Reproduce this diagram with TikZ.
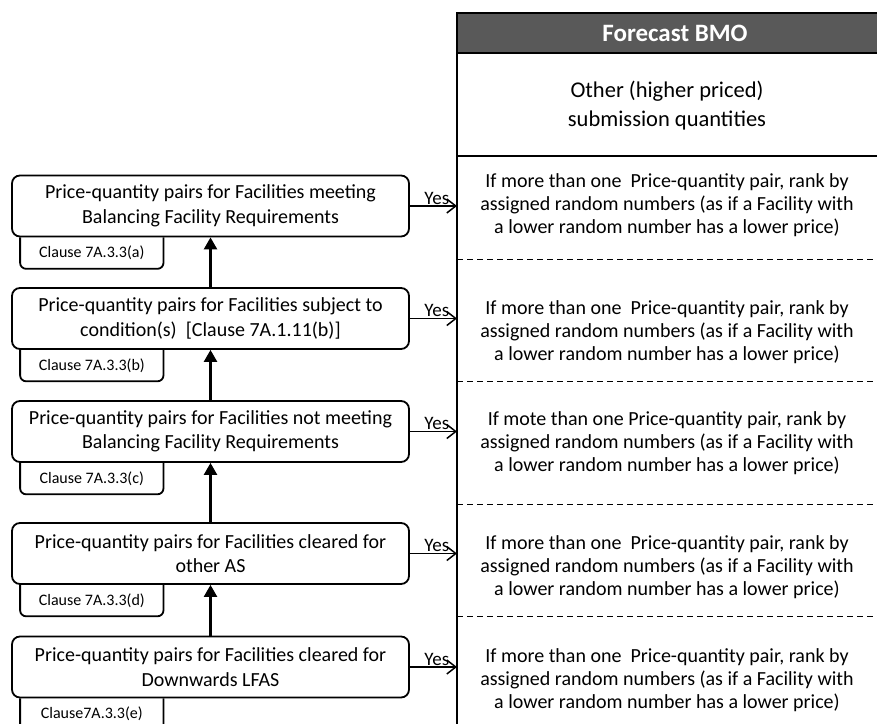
\documentclass[tikz,border=0pt]{standalone}
\usepackage{fontspec}
\setmainfont{Carlito}
\usetikzlibrary{arrows.meta,positioning}
\definecolor{hdrgray}{RGB}{89,89,89}
\tikzset{
  every picture/.style={font=\fontsize{20}{24.5}\selectfont},
  pqbox/.style={draw,line width=1.8pt,rounded corners=8pt,fill=white,
    minimum width=397pt,minimum height=61pt,align=center,inner sep=2pt},
  clausetab/.style={minimum width=143pt,minimum height=31pt,inner sep=0pt,
    font=\fontsize{16}{19}\selectfont},
  tabline/.style={line width=1.8pt,rounded corners=6pt},
  rowtext/.style={align=center,font=\fontsize{20}{23.3}\selectfont},
  frame/.style={line width=2.4pt},
  rowsep/.style={line width=1pt,dash pattern=on 6pt off 4pt},
  upflow/.style={line width=2.4pt,-{Triangle[length=12pt,width=13pt]}},
  yesflow/.style={line width=1.5pt,-{Straight Barb[length=9pt,width=14pt,line width=1.5pt]}},
  yeslbl/.style={font=\fontsize{19}{22}\selectfont,inner sep=0pt,anchor=base east,
    xshift=-7pt,yshift=2pt},
}
\begin{document}
\begin{tikzpicture}[x=1pt,y=-1pt]
  \useasboundingbox (0,0) rectangle (877,723);
  \clip (0,0) rectangle (877,723);
  \fill[hdrgray] (457,13) rectangle (900,53);
  \coordinate (tbl) at (457,13);
  \node[white,font=\bfseries\fontsize{25}{30}\selectfont] (hdr) at (675,33) {Forecast BMO};
  \draw[frame] (900,13) -- (tbl) -- (457,730);
  \draw[frame] (457,53) -- (900,53) (457,156) -- (900,156);
  \foreach \y in {259,381,504,616}{
    \draw[rowsep] (457,\y) -- (900,\y);
  }
  \node[rowtext,font=\fontsize{22.5}{29}\selectfont] (other) at (667,106) {Other (higher priced)\\submission quantities};
  \node[rowtext] (r1) at (667,205) {If more than one \ Price-quantity pair, rank by\\assigned random numbers (as if a Facility with\\a lower random number has a lower price)};
  \node[rowtext] (r2) at (667,332) {If more than one \ Price-quantity pair, rank by\\assigned random numbers (as if a Facility with\\a lower random number has a lower price)};
  \node[rowtext] (r3) at (667,443) {If mote than one Price-quantity pair, rank by\\assigned random numbers (as if a Facility with\\a lower random number has a lower price)};
  \node[rowtext] (r4) at (667,567) {If more than one \ Price-quantity pair, rank by\\assigned random numbers (as if a Facility with\\a lower random number has a lower price)};
  \node[rowtext] (r5) at (667,680) {If more than one \ Price-quantity pair, rank by\\assigned random numbers (as if a Facility with\\a lower random number has a lower price)};

  \node[pqbox] (b1) at (210.5,206) {Price-quantity pairs for Facilities meeting\\Balancing Facility Requirements};
  \node[pqbox] (b2) at (210.5,318.5) {Price-quantity pairs for Facilities subject to\\condition(s) \ [Clause 7A.1.11(b)]};
  \node[pqbox] (b3) at (210.5,431.5) {Price-quantity pairs for Facilities not meeting\\Balancing Facility Requirements};
  \node[pqbox] (b4) at (210.5,553.5) {Price-quantity pairs for Facilities cleared for\\other AS};
  \node[pqbox] (b5) at (210.5,667) {Price-quantity pairs for Facilities cleared for\\Downwards LFAS};

  \node[clausetab,below right=0pt and 9pt of b1.south west] (c1) {Clause 7A.3.3(a)};
  \node[clausetab,below right=0pt and 9pt of b2.south west] (c2) {Clause 7A.3.3(b)};
  \node[clausetab,below right=0pt and 9pt of b3.south west] (c3) {Clause 7A.3.3(c)};
  \node[clausetab,below right=0pt and 9pt of b4.south west] (c4) {Clause 7A.3.3(d)};
  \node[clausetab,below right=0pt and 9pt of b5.south west] (c5) {Clause7A.3.3(e)};
  \foreach \i in {1,...,5}{
    \draw[tabline] (c\i.north west) |- (c\i.south east) -- (c\i.north east);
    \draw[yesflow] (b\i.east) -- (b\i.east -| tbl) node[yeslbl]{Yes};
  }
  \foreach \lo/\hi in {2/1,3/2,4/3,5/4}{
    \draw[upflow] (b\lo) -- (b\hi);
  }
\end{tikzpicture}
\end{document}
